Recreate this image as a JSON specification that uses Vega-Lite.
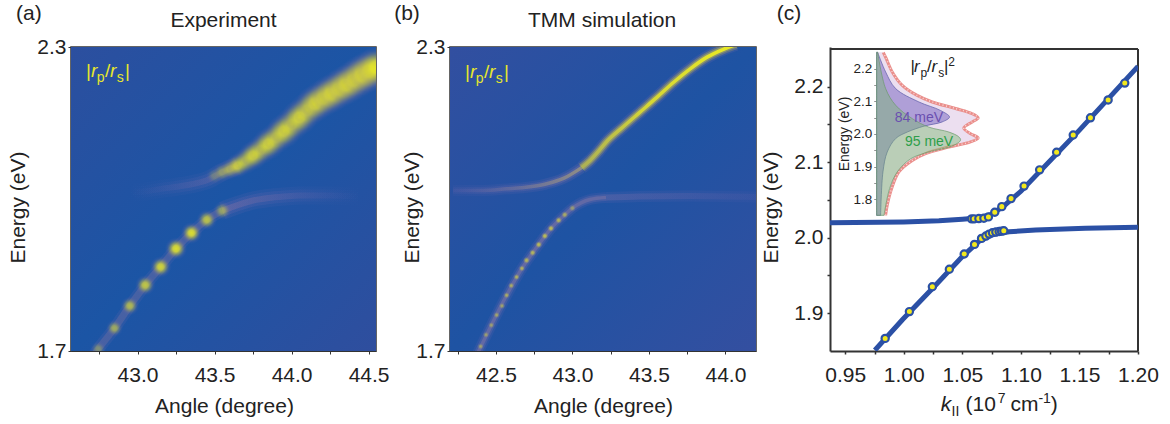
{"$schema":"https://vega.github.io/schema/vega-lite/v6.json","autosize":{"type":"pad"},"padding":{"left":6,"top":2,"right":5,"bottom":0},"background":"white","bounds":"flush","spacing":74,"config":{"font":"Liberation Sans","view":{"stroke":null},"axis":{"grid":false,"labelFont":"Liberation Sans","titleFont":"Liberation Sans","labelColor":"#222","titleColor":"#222","labelFontSize":21,"titleFontSize":21,"titleFontWeight":"normal","tickColor":"#333","domainColor":"#333","tickSize":3,"labelOverlap":false,"labelBound":false,"labelFlush":false}},"hconcat":[{"width":305,"height":304,"view":{"stroke":"#333","strokeWidth":1.5},"encoding":{"x":{"field":"angle","type":"quantitative","scale":{"domain":[42.568,44.548],"nice":false,"zero":false},"axis":{"title":"Angle (degree)","titleX":153,"titleY":61,"titleFontSize":21,"labelFontSize":21,"titleBaseline":"alphabetic","values":[42.75,43,43.25,43.5,43.75,44,44.25,44.5],"labelExpr":"round(datum.value*100)%50==0?format(datum.value,'.1f'):''","labelPadding":10}},"y":{"field":"energy","type":"quantitative","scale":{"domain":[1.7,2.3],"nice":false,"zero":false},"axis":{"title":"Energy (eV)","titleX":-43,"titleY":160,"titleFontSize":21,"labelFontSize":21,"values":[1.7,2.3],"format":".1f","labelPadding":2}}},"layer":[{"data":{"values":[{"angle":42.568,"angle2":44.548,"energy":1.7,"energy2":2.3}]},"mark":{"type":"rect","fill":{"gradient":"linear","x1":0,"y1":0,"x2":1,"y2":1,"stops":[{"offset":0,"color":"#2c4f9f"},{"offset":0.5,"color":"#1b55a5"},{"offset":1,"color":"#2f4e9e"}]}},"encoding":{"x2":{"field":"angle2"},"y2":{"field":"energy2"}}},{"data":{"values":[{"angle":42.95,"energy":2.014},{"angle":43.05,"energy":2.015},{"angle":43.15,"energy":2.02},{"angle":43.25,"energy":2.024},{"angle":43.35,"energy":2.029},{"angle":43.45,"energy":2.037},{"angle":43.55,"energy":2.053},{"angle":43.65,"energy":2.066}]},"layer":[{"mark":{"type":"line","clip":true,"interpolate":"monotone","strokeWidth":18,"stroke":{"gradient":"linear","x1":0,"y1":0,"x2":1,"y2":0,"stops":[{"offset":0,"color":"rgba(125,105,175,0)"},{"offset":1,"color":"rgba(125,105,175,0.12)"}]}}},{"mark":{"type":"line","clip":true,"interpolate":"monotone","strokeWidth":12,"stroke":{"gradient":"linear","x1":0,"y1":0,"x2":1,"y2":0,"stops":[{"offset":0,"color":"rgba(125,105,175,0)"},{"offset":1,"color":"rgba(125,105,175,0.2)"}]}}},{"mark":{"type":"line","clip":true,"interpolate":"monotone","strokeWidth":6,"stroke":{"gradient":"linear","x1":0,"y1":0,"x2":1,"y2":0,"stops":[{"offset":0,"color":"rgba(125,105,175,0)"},{"offset":1,"color":"rgba(135,115,165,0.35)"}]}}}]},{"data":{"values":[{"angle":42.7,"energy":1.685},{"angle":42.745,"energy":1.704},{"angle":42.85,"energy":1.745},{"angle":42.95,"energy":1.789},{"angle":43.05,"energy":1.83},{"angle":43.15,"energy":1.866},{"angle":43.25,"energy":1.902},{"angle":43.35,"energy":1.933},{"angle":43.45,"energy":1.959},{"angle":43.55,"energy":1.977}]},"layer":[{"mark":{"type":"line","clip":true,"interpolate":"monotone","strokeWidth":12,"stroke":"rgba(125,105,175,0.15)"}},{"mark":{"type":"line","clip":true,"interpolate":"monotone","strokeWidth":7,"stroke":"rgba(140,120,160,0.3)"}}]},{"data":{"values":[{"angle":43.55,"energy":1.977},{"angle":43.65,"energy":1.988},{"angle":43.75,"energy":1.997},{"angle":43.85,"energy":2.002},{"angle":43.95,"energy":2.005},{"angle":44.05,"energy":2.007},{"angle":44.15,"energy":2.007},{"angle":44.25,"energy":2.007},{"angle":44.35,"energy":2.006},{"angle":44.45,"energy":2.005}]},"layer":[{"mark":{"type":"line","clip":true,"interpolate":"monotone","strokeWidth":18,"stroke":{"gradient":"linear","x1":0,"y1":0,"x2":1,"y2":0,"stops":[{"offset":0,"color":"rgba(125,105,175,0.14)"},{"offset":1,"color":"rgba(125,105,175,0)"}]}}},{"mark":{"type":"line","clip":true,"interpolate":"monotone","strokeWidth":12,"stroke":{"gradient":"linear","x1":0,"y1":0,"x2":1,"y2":0,"stops":[{"offset":0,"color":"rgba(125,105,175,0.22)"},{"offset":1,"color":"rgba(125,105,175,0)"}]}}},{"mark":{"type":"line","clip":true,"interpolate":"monotone","strokeWidth":6,"stroke":{"gradient":"linear","x1":0,"y1":0,"x2":1,"y2":0,"stops":[{"offset":0,"color":"rgba(135,115,165,0.4)"},{"offset":1,"color":"rgba(125,105,175,0)"}]}}}]},{"data":{"values":[{"angle":42.745,"energy":1.704,"w":0.26,"i":0.35},{"angle":42.85,"energy":1.745,"w":0.3,"i":0.55},{"angle":42.95,"energy":1.789,"w":0.36,"i":0.65},{"angle":43.05,"energy":1.83,"w":0.42,"i":0.75},{"angle":43.15,"energy":1.866,"w":0.46,"i":0.85},{"angle":43.25,"energy":1.902,"w":0.5,"i":0.92},{"angle":43.35,"energy":1.933,"w":0.46,"i":0.92},{"angle":43.45,"energy":1.959,"w":0.42,"i":0.72},{"angle":43.55,"energy":1.977,"w":0.36,"i":0.5},{"angle":43.5,"energy":2.046,"w":0.32,"i":0.25},{"angle":43.55,"energy":2.053,"w":0.4,"i":0.45},{"angle":43.6,"energy":2.059,"w":0.45,"i":0.6},{"angle":43.65,"energy":2.066,"w":0.6,"i":0.85},{"angle":43.7,"energy":2.075,"w":0.7,"i":0.7},{"angle":43.75,"energy":2.086,"w":0.85,"i":0.9},{"angle":43.8,"energy":2.097,"w":0.9,"i":0.7},{"angle":43.85,"energy":2.109,"w":1.05,"i":0.9},{"angle":43.9,"energy":2.121,"w":1.05,"i":0.7},{"angle":43.95,"energy":2.134,"w":1.2,"i":0.9},{"angle":44.0,"energy":2.147,"w":1.2,"i":0.7},{"angle":44.05,"energy":2.161,"w":1.3,"i":0.9},{"angle":44.1,"energy":2.175,"w":1.3,"i":0.7},{"angle":44.15,"energy":2.188,"w":1.4,"i":0.9},{"angle":44.2,"energy":2.198,"w":1.45,"i":0.75},{"angle":44.25,"energy":2.207,"w":1.5,"i":0.9},{"angle":44.3,"energy":2.216,"w":1.55,"i":0.75},{"angle":44.35,"energy":2.225,"w":1.6,"i":0.9},{"angle":44.4,"energy":2.234,"w":1.65,"i":0.8},{"angle":44.45,"energy":2.244,"w":1.7,"i":0.9},{"angle":44.5,"energy":2.252,"w":1.75,"i":0.9},{"angle":44.55,"energy":2.26,"w":1.75,"i":0.9}]},"mark":{"type":"circle","clip":true,"fill":{"gradient":"radial","x1":0.5,"y1":0.5,"r1":0,"x2":0.5,"y2":0.5,"r2":0.5,"stops":[{"offset":0,"color":"rgba(234,234,36,1)"},{"offset":0.28,"color":"rgba(228,228,44,0.9)"},{"offset":0.55,"color":"rgba(190,185,75,0.5)"},{"offset":0.8,"color":"rgba(130,115,155,0.18)"},{"offset":1,"color":"rgba(110,100,170,0)"}]}},"encoding":{"size":{"field":"w","type":"quantitative","legend":null,"scale":{"domain":[0,1],"range":[0,1000]}},"opacity":{"field":"i","type":"quantitative","legend":null,"scale":{"domain":[0,1],"range":[0,1]}}}},{"data":{"values":[{"angle":42.665,"energy":2.2408,"text":"|"},{"angle":42.789,"energy":2.2408,"text":"/"},{"angle":42.919,"energy":2.2408,"text":"|"}]},"mark":{"type":"text","align":"left","baseline":"alphabetic","fontSize":19,"color":"#e6e62c"},"encoding":{"text":{"field":"text"}}},{"data":{"values":[{"angle":42.698,"energy":2.2408,"text":"r"},{"angle":42.821,"energy":2.2408,"text":"r"}]},"mark":{"type":"text","align":"left","baseline":"alphabetic","fontSize":19,"fontStyle":"italic","color":"#e6e62c"},"encoding":{"text":{"field":"text"}}},{"data":{"values":[{"angle":42.735,"energy":2.231,"text":"p"},{"angle":42.865,"energy":2.231,"text":"s"}]},"mark":{"type":"text","align":"left","baseline":"alphabetic","fontSize":14,"color":"#e6e62c"},"encoding":{"text":{"field":"text"}}},{"data":{"values":[{"angle":42.295,"energy":2.365,"text":"(a)"},{"angle":43.558,"energy":2.3513,"text":"Experiment"}]},"mark":{"type":"text","align":"center","baseline":"middle","fontSize":21,"color":"#222"},"encoding":{"text":{"field":"text"}}}]},{"width":306,"height":304,"view":{"stroke":"#333","strokeWidth":1.5},"encoding":{"x":{"field":"angle","type":"quantitative","scale":{"domain":[42.2,44.2],"nice":false,"zero":false},"axis":{"title":"Angle (degree)","titleX":153,"titleY":61,"titleFontSize":21,"labelFontSize":21,"titleBaseline":"alphabetic","values":[42.25,42.5,42.75,43,43.25,43.5,43.75,44],"labelExpr":"round(datum.value*100)%50==0?format(datum.value,'.1f'):''","labelPadding":10}},"y":{"field":"energy","type":"quantitative","scale":{"domain":[1.7,2.3],"nice":false,"zero":false},"axis":{"title":"Energy (eV)","titleX":-28,"titleY":160,"titleFontSize":21,"labelFontSize":21,"values":[1.7,2.3],"format":".1f","labelPadding":2}}},"layer":[{"data":{"values":[{"angle":42.2,"angle2":44.2,"energy":1.7,"energy2":2.3}]},"mark":{"type":"rect","fill":{"gradient":"linear","x1":0,"y1":0,"x2":1,"y2":1,"stops":[{"offset":0,"color":"#324fa0"},{"offset":0.5,"color":"#1e53a3"},{"offset":1,"color":"#344fa0"}]}},"encoding":{"x2":{"field":"angle2"},"y2":{"field":"energy2"}}},{"data":{"values":[{"angle":42.22,"energy":2.017},{"angle":42.42,"energy":2.017},{"angle":42.57,"energy":2.02},{"angle":42.67,"energy":2.022},{"angle":42.77,"energy":2.026},{"angle":42.82,"energy":2.029},{"angle":42.87,"energy":2.033},{"angle":42.92,"energy":2.038},{"angle":42.97,"energy":2.045},{"angle":43.02,"energy":2.054},{"angle":43.06,"energy":2.062}]},"layer":[{"mark":{"type":"line","clip":true,"interpolate":"monotone","strokeWidth":11,"stroke":{"gradient":"linear","x1":0,"y1":0,"x2":1,"y2":0,"stops":[{"offset":0,"color":"rgba(125,105,175,0.05)"},{"offset":1,"color":"rgba(130,110,170,0.2)"}]}}},{"mark":{"type":"line","clip":true,"interpolate":"monotone","strokeWidth":7,"stroke":{"gradient":"linear","x1":0,"y1":0,"x2":1,"y2":0,"stops":[{"offset":0,"color":"rgba(125,105,175,0.08)"},{"offset":1,"color":"rgba(140,120,160,0.3)"}]}}},{"mark":{"type":"line","clip":true,"interpolate":"monotone","strokeWidth":3.5,"stroke":{"gradient":"linear","x1":0,"y1":0,"x2":1,"y2":0,"stops":[{"offset":0,"color":"rgba(125,105,175,0.12)"},{"offset":1,"color":"rgba(170,160,120,0.7)"}]}}}]},{"data":{"values":[{"angle":42.38,"energy":1.695},{"angle":42.47,"energy":1.751},{"angle":42.57,"energy":1.81},{"angle":42.67,"energy":1.863},{"angle":42.78,"energy":1.91},{"angle":42.86,"energy":1.942},{"angle":42.95,"energy":1.969},{"angle":43.0,"energy":1.982},{"angle":43.06,"energy":1.993},{"angle":43.115,"energy":1.999},{"angle":43.22,"energy":2.003}]},"layer":[{"mark":{"type":"line","clip":true,"interpolate":"monotone","strokeWidth":11,"stroke":"rgba(125,105,175,0.14)"}},{"mark":{"type":"line","clip":true,"interpolate":"monotone","strokeWidth":7,"stroke":"rgba(135,115,170,0.25)"}},{"mark":{"type":"line","clip":true,"interpolate":"monotone","strokeWidth":3.5,"stroke":"rgba(145,125,165,0.4)"}}]},{"data":{"values":[{"angle":43.22,"energy":2.003},{"angle":43.44,"energy":2.005},{"angle":43.77,"energy":2.006},{"angle":44.2,"energy":2.004}]},"layer":[{"mark":{"type":"line","clip":true,"interpolate":"monotone","strokeWidth":11,"stroke":{"gradient":"linear","x1":0,"y1":0,"x2":1,"y2":0,"stops":[{"offset":0,"color":"rgba(125,105,175,0.14)"},{"offset":1,"color":"rgba(125,105,175,0.06)"}]}}},{"mark":{"type":"line","clip":true,"interpolate":"monotone","strokeWidth":6,"stroke":{"gradient":"linear","x1":0,"y1":0,"x2":1,"y2":0,"stops":[{"offset":0,"color":"rgba(135,115,170,0.3)"},{"offset":1,"color":"rgba(125,105,175,0.1)"}]}}}]},{"data":{"values":[{"angle":43.06,"energy":2.062},{"angle":43.115,"energy":2.076},{"angle":43.17,"energy":2.094},{"angle":43.22,"energy":2.112},{"angle":43.33,"energy":2.142},{"angle":43.44,"energy":2.171},{"angle":43.55,"energy":2.2},{"angle":43.66,"energy":2.23},{"angle":43.77,"energy":2.257},{"angle":43.88,"energy":2.28},{"angle":43.99,"energy":2.296},{"angle":44.07,"energy":2.305}]},"layer":[{"mark":{"type":"line","clip":true,"interpolate":"monotone","strokeWidth":13,"stroke":"rgba(130,110,170,0.18)"}},{"mark":{"type":"line","clip":true,"interpolate":"monotone","strokeWidth":9.5,"stroke":"rgba(165,155,100,0.35)"}},{"mark":{"type":"line","clip":true,"interpolate":"monotone","strokeWidth":6.5,"stroke":"rgba(190,185,80,0.5)"}},{"mark":{"type":"line","clip":true,"interpolate":"monotone","strokeWidth":3.5,"stroke":{"gradient":"linear","x1":0,"y1":0,"x2":1,"y2":0,"stops":[{"offset":0,"color":"rgba(205,205,60,0.5)"},{"offset":0.4,"color":"rgba(225,225,45,0.85)"},{"offset":1,"color":"rgba(235,235,35,1)"}]}}}]},{"data":{"values":[{"angle":42.4,"energy":1.709,"w":0.04,"i":0.5},{"angle":42.435,"energy":1.732,"w":0.04,"i":0.5},{"angle":42.47,"energy":1.751,"w":0.04,"i":0.5},{"angle":42.505,"energy":1.771,"w":0.04,"i":0.55},{"angle":42.54,"energy":1.789,"w":0.04,"i":0.55},{"angle":42.57,"energy":1.81,"w":0.04,"i":0.6},{"angle":42.6,"energy":1.829,"w":0.04,"i":0.6},{"angle":42.635,"energy":1.846,"w":0.04,"i":0.65},{"angle":42.67,"energy":1.863,"w":0.04,"i":0.65},{"angle":42.7,"energy":1.879,"w":0.05,"i":0.7},{"angle":42.74,"energy":1.894,"w":0.05,"i":0.7},{"angle":42.78,"energy":1.91,"w":0.05,"i":0.75},{"angle":42.82,"energy":1.927,"w":0.05,"i":0.75},{"angle":42.86,"energy":1.942,"w":0.05,"i":0.75},{"angle":42.91,"energy":1.958,"w":0.05,"i":0.7},{"angle":42.95,"energy":1.969,"w":0.05,"i":0.6},{"angle":43.0,"energy":1.982,"w":0.05,"i":0.45}]},"mark":{"type":"circle","clip":true,"fill":{"gradient":"radial","x1":0.5,"y1":0.5,"r1":0,"x2":0.5,"y2":0.5,"r2":0.5,"stops":[{"offset":0,"color":"rgba(232,232,40,1)"},{"offset":0.4,"color":"rgba(215,215,60,0.8)"},{"offset":1,"color":"rgba(140,130,130,0)"}]}},"encoding":{"size":{"field":"w","type":"quantitative","legend":null,"scale":{"domain":[0,1],"range":[0,1000]}},"opacity":{"field":"i","type":"quantitative","legend":null,"scale":{"domain":[0,1],"range":[0,1]}}}},{"data":{"values":[{"angle":42.298,"energy":2.238,"text":"|"},{"angle":42.422,"energy":2.238,"text":"/"},{"angle":42.553,"energy":2.238,"text":"|"}]},"mark":{"type":"text","align":"left","baseline":"alphabetic","fontSize":19,"color":"#e6e62c"},"encoding":{"text":{"field":"text"}}},{"data":{"values":[{"angle":42.331,"energy":2.238,"text":"r"},{"angle":42.455,"energy":2.238,"text":"r"}]},"mark":{"type":"text","align":"left","baseline":"alphabetic","fontSize":19,"fontStyle":"italic","color":"#e6e62c"},"encoding":{"text":{"field":"text"}}},{"data":{"values":[{"angle":42.368,"energy":2.229,"text":"p"},{"angle":42.499,"energy":2.229,"text":"s"}]},"mark":{"type":"text","align":"left","baseline":"alphabetic","fontSize":14,"color":"#e6e62c"},"encoding":{"text":{"field":"text"}}},{"data":{"values":[{"angle":41.919,"energy":2.365,"text":"(b)"},{"angle":43.194,"energy":2.3513,"text":"TMM simulation"}]},"mark":{"type":"text","align":"center","baseline":"middle","fontSize":21,"color":"#222"},"encoding":{"text":{"field":"text"}}}]},{"width":308,"height":304,"resolve":{"scale":{"x":"independent","y":"independent"},"axis":{"x":"independent","y":"independent"}},"layer":[{"encoding":{"x":{"field":"k","type":"quantitative","scale":{"domain":[0.937,1.2],"nice":false,"zero":false},"axis":{"domainWidth":2,"tickWidth":1.5,"title":null,"labelFontSize":21,"values":[0.95,0.975,1,1.025,1.05,1.075,1.1,1.125,1.15,1.175,1.2],"labelExpr":"round(datum.value*1000)%50==0?format(datum.value,'.2f'):''","labelPadding":10}},"y":{"field":"energy","type":"quantitative","scale":{"domain":[1.85,2.2526],"nice":false,"zero":false},"axis":{"domainWidth":2,"tickWidth":1.5,"title":"Energy (eV)","titleFontSize":21,"labelFontSize":21,"titleX":-49,"titleY":160,"values":[1.9,1.95,2,2.05,2.1,2.15,2.2],"labelExpr":"round(datum.value*100)%10==0?format(datum.value,'.1f'):''","labelPadding":4}}},"layer":[{"data":{"values":[{"k":0.937,"k2":1.2,"energy":2.25}]},"mark":{"type":"rule","stroke":"#333","strokeWidth":2},"encoding":{"x2":{"field":"k2"}}},{"data":{"values":[{"k":1.2,"energy":1.85,"energy2":2.25}]},"mark":{"type":"rule","stroke":"#333","strokeWidth":2},"encoding":{"y2":{"field":"energy2"}}},{"data":{"values":[{"branch":"upper","k":0.937,"energy":2.02},{"branch":"upper","k":1.0,"energy":2.021},{"branch":"upper","k":1.03,"energy":2.0225},{"branch":"upper","k":1.05,"energy":2.0245},{"branch":"upper","k":1.065,"energy":2.0265},{"branch":"upper","k":1.075,"energy":2.031},{"branch":"upper","k":1.085,"energy":2.0415},{"branch":"upper","k":1.1,"energy":2.0615},{"branch":"upper","k":1.15,"energy":2.1425},{"branch":"upper","k":1.2,"energy":2.227},{"branch":"lower","k":0.9753,"energy":1.851},{"branch":"lower","k":0.999,"energy":1.8917},{"branch":"lower","k":1.0275,"energy":1.9377},{"branch":"lower","k":1.05,"energy":1.975},{"branch":"lower","k":1.0644,"energy":1.9956},{"branch":"lower","k":1.0757,"energy":2.0044},{"branch":"lower","k":1.09,"energy":2.0079},{"branch":"lower","k":1.1126,"energy":2.0101},{"branch":"lower","k":1.155,"energy":2.0127},{"branch":"lower","k":1.2,"energy":2.014}]},"mark":{"type":"line","stroke":"#2b50a5","strokeWidth":5,"clip":true},"encoding":{"detail":{"field":"branch"}}},{"data":{"values":[{"k":0.9841,"energy":1.8667},{"k":1.0048,"energy":1.9022},{"k":1.0244,"energy":1.9351},{"k":1.0389,"energy":1.9583},{"k":1.0516,"energy":1.9785},{"k":1.0604,"energy":1.9912},{"k":1.0664,"energy":1.9991},{"k":1.0701,"energy":2.0022},{"k":1.0729,"energy":2.0048},{"k":1.0757,"energy":2.0066},{"k":1.0786,"energy":2.0075},{"k":1.0814,"energy":2.0083},{"k":1.0834,"energy":2.0088},{"k":1.0854,"energy":2.0092},{"k":1.0579,"energy":2.025},{"k":1.0601,"energy":2.025},{"k":1.0641,"energy":2.0254},{"k":1.0684,"energy":2.0259},{"k":1.0723,"energy":2.0276},{"k":1.0777,"energy":2.0338},{"k":1.0837,"energy":2.0412},{"k":1.0916,"energy":2.0518},{"k":1.1027,"energy":2.0684},{"k":1.116,"energy":2.0899},{"k":1.1305,"energy":2.1132},{"k":1.1447,"energy":2.136},{"k":1.1594,"energy":2.1588},{"k":1.1745,"energy":2.1825},{"k":1.1887,"energy":2.2048}]},"mark":{"type":"circle","size":52,"opacity":1,"fill":"#f2e81c","stroke":"#2b50a5","strokeWidth":2.2}},{"data":{"values":[{"k":1.0315,"energy":1.771,"text":"k"}]},"mark":{"type":"text","align":"left","baseline":"alphabetic","fontSize":21,"fontStyle":"italic","color":"#222"},"encoding":{"text":{"field":"text"}}},{"data":{"values":[{"k":1.0528,"energy":1.771,"text":"(10"},{"k":1.0912,"energy":1.771,"text":"cm"},{"k":1.1255,"energy":1.771,"text":")"}]},"mark":{"type":"text","align":"left","baseline":"alphabetic","fontSize":21,"color":"#222"},"encoding":{"text":{"field":"text"}}},{"data":{"values":[{"k":1.0408,"energy":1.7644,"text":"II"},{"k":1.0803,"energy":1.7816,"text":"7"},{"k":1.115,"energy":1.7816,"text":"-1"}]},"mark":{"type":"text","align":"left","baseline":"alphabetic","fontSize":14,"color":"#222"},"encoding":{"text":{"field":"text"}}},{"data":{"values":[{"k":0.902,"energy":2.296,"text":"(c)"}]},"mark":{"type":"text","align":"center","baseline":"middle","fontSize":21,"color":"#222"},"encoding":{"text":{"field":"text"}}}]},{"encoding":{"x":{"field":"intensity","type":"quantitative","stack":null,"scale":{"domain":[-0.456,2.557],"nice":false,"zero":false},"axis":null},"y":{"field":"energy","type":"quantitative","scale":{"domain":[1.336,2.2662],"nice":false,"zero":false},"axis":{"orient":"left","offset":-46.7,"domain":false,"title":null,"values":[1.8,1.85,1.9,1.95,2,2.05,2.1,2.15,2.2],"labelExpr":"round(datum.value*100)%10==0?format(datum.value,'.1f'):''","labelFontSize":13.5,"labelPadding":2,"tickSize":3,"tickWidth":0.8,"tickColor":"#777"}}},"layer":[{"data":{"values":[{"energy":2.25,"intensity":0.065},{"energy":2.231,"intensity":0.094},{"energy":2.19,"intensity":0.153},{"energy":2.149,"intensity":0.251},{"energy":2.118,"intensity":0.397},{"energy":2.098,"intensity":0.544},{"energy":2.078,"intensity":0.772},{"energy":2.062,"intensity":0.935},{"energy":2.049,"intensity":0.993},{"energy":2.037,"intensity":0.935},{"energy":2.018,"intensity":0.853},{"energy":2.001,"intensity":0.919},{"energy":1.988,"intensity":0.993},{"energy":1.976,"intensity":0.919},{"energy":1.96,"intensity":0.707},{"energy":1.94,"intensity":0.479},{"energy":1.919,"intensity":0.349},{"energy":1.884,"intensity":0.218},{"energy":1.833,"intensity":0.147},{"energy":1.782,"intensity":0.104},{"energy":1.751,"intensity":0.088}]},"layer":[{"mark":{"type":"area","orient":"horizontal","interpolate":"catmull-rom","fill":"#ecdff0"}},{"mark":{"type":"line","interpolate":"catmull-rom","stroke":"#ea8f8c","strokeWidth":3},"encoding":{"order":{"field":"energy"}}},{"mark":{"type":"line","interpolate":"catmull-rom","stroke":"#f8d8d6","strokeWidth":1.5,"strokeDash":[1,2.5]},"encoding":{"order":{"field":"energy"}}}]},{"data":{"values":[{"energy":2.25,"intensity":0.01},{"energy":2.19,"intensity":0.088},{"energy":2.139,"intensity":0.186},{"energy":2.098,"intensity":0.414},{"energy":2.072,"intensity":0.625},{"energy":2.052,"intensity":0.713},{"energy":2.037,"intensity":0.642},{"energy":2.024,"intensity":0.463},{"energy":2.006,"intensity":0.3},{"energy":1.986,"intensity":0.186},{"energy":1.945,"intensity":0.104},{"energy":1.884,"intensity":0.062},{"energy":1.751,"intensity":0.039}]},"mark":{"type":"area","orient":"horizontal","interpolate":"catmull-rom","fill":"#5a48b4","fillOpacity":0.42,"stroke":"#5a5aa8","strokeWidth":0.7}},{"data":{"values":[{"energy":2.25,"intensity":0.01},{"energy":2.139,"intensity":0.088},{"energy":2.088,"intensity":0.186},{"energy":2.047,"intensity":0.349},{"energy":2.021,"intensity":0.511},{"energy":2.006,"intensity":0.707},{"energy":1.991,"intensity":0.805},{"energy":1.981,"intensity":0.821},{"energy":1.963,"intensity":0.739},{"energy":1.945,"intensity":0.511},{"energy":1.924,"intensity":0.332},{"energy":1.884,"intensity":0.202},{"energy":1.833,"intensity":0.127},{"energy":1.751,"intensity":0.072}]},"mark":{"type":"area","orient":"horizontal","interpolate":"catmull-rom","fill":"#74b868","fillOpacity":0.42,"stroke":"#6a9a6a","strokeWidth":0.7}},{"data":{"values":[{"intensity":-0.271,"energy":2.0,"text":"Energy (eV)"}]},"mark":{"type":"text","angle":270,"align":"center","baseline":"alphabetic","fontSize":14,"color":"#222"},"encoding":{"text":{"field":"text"}}},{"data":{"values":[{"intensity":0.178,"energy":2.0376,"text":"84 meV"}]},"mark":{"type":"text","align":"left","baseline":"alphabetic","fontSize":14,"color":"#6a4fb0"},"encoding":{"text":{"field":"text"}}},{"data":{"values":[{"intensity":0.277,"energy":1.9623,"text":"95 meV"}]},"mark":{"type":"text","align":"left","baseline":"alphabetic","fontSize":14,"color":"#2e9e4a"},"encoding":{"text":{"field":"text"}}},{"data":{"values":[{"intensity":0.332,"energy":2.1897,"text":"|"},{"intensity":0.492,"energy":2.1897,"text":"/"},{"intensity":0.658,"energy":2.1897,"text":"|"}]},"mark":{"type":"text","align":"left","baseline":"alphabetic","fontSize":17,"color":"#222"},"encoding":{"text":{"field":"text"}}},{"data":{"values":[{"intensity":0.365,"energy":2.1897,"text":"r"},{"intensity":0.538,"energy":2.1897,"text":"r"}]},"mark":{"type":"text","align":"left","baseline":"alphabetic","fontSize":17,"fontStyle":"italic","color":"#222"},"encoding":{"text":{"field":"text"}}},{"data":{"values":[{"intensity":0.43,"energy":2.1744,"text":"p"},{"intensity":0.602,"energy":2.1744,"text":"s"},{"intensity":0.7,"energy":2.2081,"text":"2"}]},"mark":{"type":"text","align":"left","baseline":"alphabetic","fontSize":12,"color":"#222"},"encoding":{"text":{"field":"text"}}}]}]}]}
